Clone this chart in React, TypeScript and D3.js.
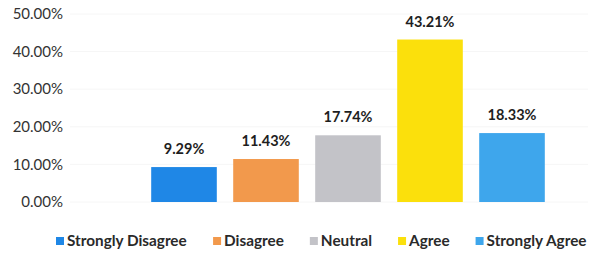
import { useMemo } from "react";
import { scaleBand, scaleLinear } from "d3";

const width = 590;
const height = 253;

const categories = ["Strongly Disagree", "Disagree", "Neutral", "Agree", "Strongly Agree"];
const values = [9.29, 11.43, 17.74, 43.21, 18.33];
const colors = ["#1f87e6", "#f2994c", "#c3c3c8", "#fbe00c", "#3ea6ec"];
const yTicks = [0, 10, 20, 30, 40, 50];

const fontFamily = "Lato, 'Open Sans', sans-serif";

const measure = (text: string, font: string) => {
  const ctx = document.createElement("canvas").getContext("2d");
  if (!ctx) return text.length * 7;
  ctx.font = font;
  return ctx.measureText(text).width;
};

export default function App() {
  const { x, y, legend } = useMemo(() => {
    const x = scaleBand<string>()
      .domain(categories)
      .range([143, 553])
      .paddingInner(0.2)
      .paddingOuter(0.1);
    const y = scaleLinear().domain([0, 50]).range([202, 14]);

    const legendFont = `700 15.3px ${fontFamily}`;
    let cursor = 56;
    const legend = categories.map((c, i) => {
      const item = { label: c, color: colors[i], x: cursor };
      cursor += 8 + 3 + measure(c, legendFont) + 26;
      return item;
    });
    return { x, y, legend };
  }, []);

  return (
    <svg
      width={width}
      height={height}
      viewBox={`0 0 ${width} ${height}`}
      style={{ position: "absolute", left: 0, top: 0, background: "white" }}
    >
      {yTicks.map((t) => (
        <g key={t}>
          <line x1={70} x2={588} y1={y(t)} y2={y(t)} stroke="#f6f6f6" strokeWidth={1} />
          <text
            x={63}
            y={y(t)}
            dy="0.35em"
            textAnchor="end"
            fontFamily={fontFamily}
            fontSize={15}
            fill="#333"
          >
            {`${t.toFixed(2)}%`}
          </text>
        </g>
      ))}
      {categories.map((c, i) => (
        <g key={c}>
          <rect
            x={x(c)}
            y={y(values[i])}
            width={x.bandwidth()}
            height={y(0) - y(values[i])}
            fill={colors[i]}
          />
          <text
            x={(x(c) ?? 0) + x.bandwidth() / 2}
            y={y(values[i]) - 13}
            textAnchor="middle"
            fontFamily={fontFamily}
            fontWeight={700}
            fontSize={14.5}
            fill="#1e1e1e"
          >
            {`${values[i].toFixed(2)}%`}
          </text>
        </g>
      ))}
      {legend.map((l) => (
        <g key={l.label}>
          <rect x={l.x} y={237} width={8} height={8} fill={l.color} />
          <text
            x={l.x + 11}
            y={241}
            dy="0.35em"
            fontFamily={fontFamily}
            fontWeight={700}
            fontSize={15.3}
            fill="#2a2a2a"
          >
            {l.label}
          </text>
        </g>
      ))}
    </svg>
  );
}
